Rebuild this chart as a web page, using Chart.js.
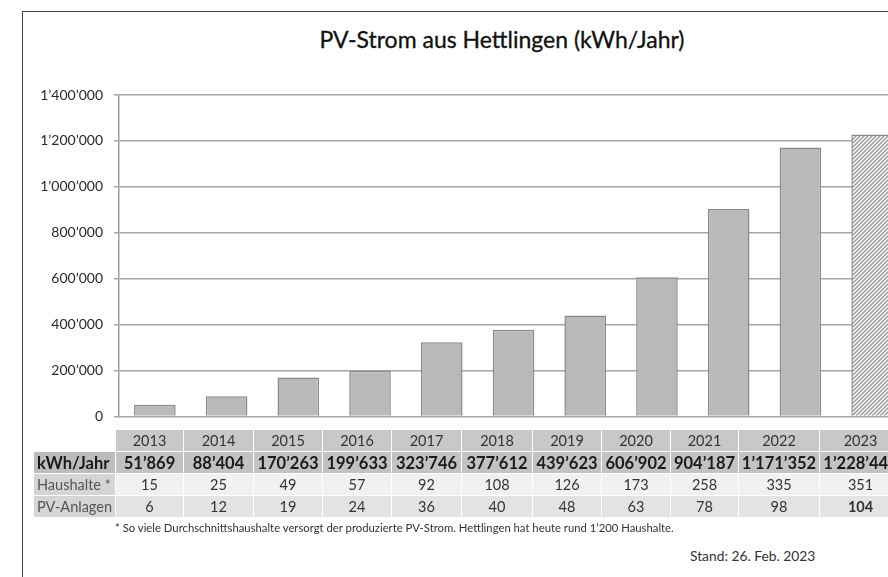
<!DOCTYPE html>
<html>
<head>
<meta charset="utf-8">
<script src="https://cdn.jsdelivr.net/npm/chart.js@4"></script>
<style>
  html, body { margin: 0; padding: 0; background: #fff; overflow: hidden; width: 888px; height: 577px; }
  body { position: relative; font-family: Lato, "Open Sans", sans-serif; color: #333; }
  #frame { position: absolute; left: 22px; top: 11px; width: 1000px; height: 1000px; border: 1.5px solid #444; }
  #title { position: absolute; left: 0; width: 1004px; top: 25px; text-align: center; font-size: 23px; line-height: 28px; color: #111; -webkit-text-stroke: 0.3px #111; }
  #wrap { position: absolute; left: 0; top: 0; width: 920px; height: 436px; }
  #tbl { position: absolute; left: 33px; top: 429px; border-collapse: collapse; table-layout: fixed; }
  #tbl td { padding: 0; height: 21px; text-align: center; border: 1px solid #fff; font-size: 14.5px; color: #333; white-space: nowrap; overflow: visible; }
  #tbl td.lab { text-align: left; padding-left: 3px; }
  #tbl tr.yr td { background: #c8c8c8; }
  #tbl tr.yr td.lab { background: #fff; }
  #tbl tr.kwh td { background: #c2c2c2; font-weight: bold; font-size: 16.5px; color: #1a1a1a; }
  #tbl tr.kwh td.lab { background: #bcbcbc; }
  #tbl tr.hh td { background: #f1f1f1; }
  #tbl tr.pv td { background: #e3e3e3; }
  #tbl tr.hh td.lab, #tbl tr.pv td.lab { background: #d5d5d5; color: #555; }
  #note { position: absolute; left: 115px; top: 521px; font-size: 11.3px; color: #333; white-space: nowrap; }
  #stand { position: absolute; left: 690px; top: 547px; font-size: 13.8px; color: #333; white-space: nowrap; }
</style>
</head>
<body>
<div id="frame"></div>
<div id="title">PV-Strom aus Hettlingen (kWh/Jahr)</div>
<div id="wrap"><canvas id="chart"></canvas></div>
<table id="tbl"></table>
<div id="note">* So viele Durchschnittshaushalte versorgt der produzierte PV-Strom. Hettlingen hat heute rund 1’200 Haushalte.</div>
<div id="stand">Stand: 26. Feb. 2023</div>

<script>
let years = ["2013", "2014", "2015", "2016", "2017", "2018", "2019", "2020", "2021", "2022", "2023"];
let kwh = [51869, 88404, 170263, 199633, 323746, 377612, 439623, 606902, 904187, 1171352, 1228440];
let haushalte = [15, 25, 49, 57, 92, 108, 126, 173, 258, 335, 351];
let anlagen = [6, 12, 19, 24, 36, 40, 48, 63, 78, 98, 104];
let yTicks = [0, 200000, 400000, 600000, 800000, 1000000, 1200000, 1400000];

function fmt(n) {
  return String(n).replace(/\B(?=(\d{3})+(?!\d))/g, "’");
}

//-----------------------------------------------
// hatch pattern for the current year
function hatch() {
  let c = document.createElement("canvas");
  c.width = 4;
  c.height = 4;
  let x = c.getContext("2d");
  x.fillStyle = "#ffffff";
  x.fillRect(0, 0, 4, 4);
  x.strokeStyle = "#959595";
  x.lineWidth = 1.4;
  x.beginPath();
  x.moveTo(-1, 5); x.lineTo(5, -1);
  x.moveTo(-1, 1); x.lineTo(1, -1);
  x.moveTo(3, 5); x.lineTo(5, 3);
  x.stroke();
  return x.createPattern(c, "repeat");
}
let pattern = hatch();

//-----------------------------------------------
new Chart(document.getElementById("chart"), {
  type: "bar",
  data: {
    labels: years,
    datasets: [
      {
        data: kwh,
        backgroundColor: (ctx) => (ctx.dataIndex === years.length - 1 ? pattern : "#b9b9b9"),
        borderColor: "#8a8a8a",
        borderWidth: 1.5,
        barPercentage: 0.58,
        categoryPercentage: 1,
      },
    ],
  },
  options: {
    responsive: true,
    maintainAspectRatio: false,
    animation: false,
    layout: { padding: { left: 0, right: 12, top: 95, bottom: 0 } },
    plugins: { legend: { display: false }, tooltip: { enabled: false } },
    scales: {
      x: { display: false },
      y: {
        min: 0,
        max: 1400000,
        afterFit: (s) => { s.width = 119; },
        afterBuildTicks: (s) => { s.ticks = yTicks.map((v) => ({ value: v })); },
        border: { display: true, color: "#a0a0a0", width: 1.5 },
        grid: { color: "#a6a6a6", lineWidth: 1.5, tickLength: 5 },
        ticks: {
          padding: 11,
          color: "#2a2a2a",
          font: { family: "Lato", size: 14 },
          callback: (v) => fmt(v),
        },
      },
    },
  },
});

//-----------------------------------------------
// data table under the chart
let colW = [82, 68, 70, 69, 69, 70, 71, 69, 69, 68, 81, 82];
let tbl = document.getElementById("tbl");
let html = `<colgroup>${colW.map((w) => `<col style="width:${w}px">`).join("")}</colgroup>`;
html += `<tr class="yr"><td class="lab"></td>${years.map((y) => `<td>${y}</td>`).join("")}</tr>`;
html += `<tr class="kwh"><td class="lab">kWh/Jahr</td>${kwh.map((v) => `<td>${fmt(v)}</td>`).join("")}</tr>`;
html += `<tr class="hh"><td class="lab">Haushalte *</td>${haushalte.map((v) => `<td>${v}</td>`).join("")}</tr>`;
html += `<tr class="pv"><td class="lab">PV-Anlagen</td>${anlagen
  .map((v, i) => `<td${i === anlagen.length - 1 ? ' style="font-weight:bold"' : ""}>${v}</td>`)
  .join("")}</tr>`;
tbl.innerHTML = html;
tbl.style.width = colW.reduce((a, b) => a + b, 0) + "px";
</script>
</body>
</html>
